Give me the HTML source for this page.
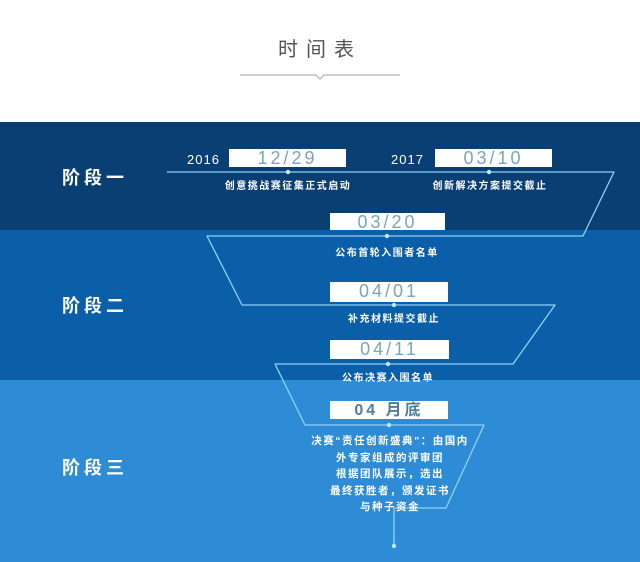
<!DOCTYPE html>
<html><head><meta charset="utf-8"><style>
html,body{margin:0;padding:0}
body{width:640px;height:562px;position:relative;overflow:hidden;background:#fff;font-family:"Liberation Sans","Noto Sans CJK SC",sans-serif}
.b{position:absolute;left:0;width:640px}
.t{position:absolute;white-space:nowrap}
.box{position:absolute;background:#fff;color:#7aa5b6;font-size:18px;text-align:center;letter-spacing:3px;line-height:19px;font-weight:300}
.cap{position:absolute;color:#fff;font-size:10px;font-weight:bold;letter-spacing:1.5px;text-align:center;white-space:nowrap;transform:translateX(-50%)}
.stage{position:absolute;left:62px;color:#fff;font-size:18px;font-weight:bold;letter-spacing:4px}
</style></head><body>
<div class="t" style="left:0;width:640px;top:33px;text-align:center;font-size:20px;color:#555;letter-spacing:8px">时间表</div>
<svg class="b" style="top:0;height:100px" width="640" height="100"><polyline points="240,75 316,75 320,79 324,75 400,75" fill="none" stroke="#aab3bb" stroke-width="1.2"/></svg>
<div class="b" style="top:122px;height:108px;background:#0a3f73"></div>
<div class="b" style="top:230px;height:150px;background:#0b5ea8"></div>
<div class="b" style="top:380px;height:182px;background:#2e8bd6"></div>
<svg class="b" style="top:0;height:562px" width="640" height="562">
<g fill="none" stroke="#8fd2f7" stroke-width="1.3" stroke-linejoin="round">
<polyline points="167,172 614,172 583,236 207,236 242,305 555,305 513,364 275,364 305,425 484,425 446,508 394,508 394,546"/>
</g>
<g fill="#bfe8ff">
<circle cx="288" cy="172" r="2.2"/><circle cx="489" cy="172" r="2.2"/><circle cx="387" cy="236" r="2.2"/>
<circle cx="394" cy="305" r="2.2"/><circle cx="388" cy="364" r="2.2"/><circle cx="389" cy="425" r="2.2"/><circle cx="394" cy="546" r="2.2"/>
</g>
</svg>
<div class="stage" style="top:164px">阶段一</div>
<div class="stage" style="top:292px">阶段二</div>
<div class="stage" style="top:454px">阶段三</div>
<div class="t" style="left:187px;top:152px;color:#fff;font-size:13px;letter-spacing:1px">2016</div>
<div class="t" style="left:391px;top:152px;color:#fff;font-size:13px;letter-spacing:1px">2017</div>
<div class="box" style="left:229px;top:149px;width:117px;height:18px">12/29</div>
<div class="box" style="left:435px;top:149px;width:117px;height:18px">03/10</div>
<div class="box" style="left:330px;top:213px;width:115px;height:17px">03/20</div>
<div class="box" style="left:330px;top:282px;width:118px;height:20px">04/01</div>
<div class="box" style="left:330px;top:340px;width:119px;height:19px">04/11</div>
<div class="box" style="left:330px;top:401px;width:118px;height:18px;font-weight:bold;font-size:16px;color:#4d7f98">04 月底</div>
<div class="cap" style="left:288px;top:177px">创意挑战赛征集正式启动</div>
<div class="cap" style="left:490px;top:177px">创新解决方案提交截止</div>
<div class="cap" style="left:387px;top:244px">公布首轮入围者名单</div>
<div class="cap" style="left:394px;top:310px">补充材料提交截止</div>
<div class="cap" style="left:388px;top:369px">公布决赛入围名单</div>
<div class="cap" style="left:390px;top:433px;line-height:16.5px;font-size:10.5px">决赛“责任创新盛典”：由国内<br>外专家组成的评审团<br>根据团队展示，选出<br>最终获胜者，颁发证书<br>与种子资金</div>
</body></html>
